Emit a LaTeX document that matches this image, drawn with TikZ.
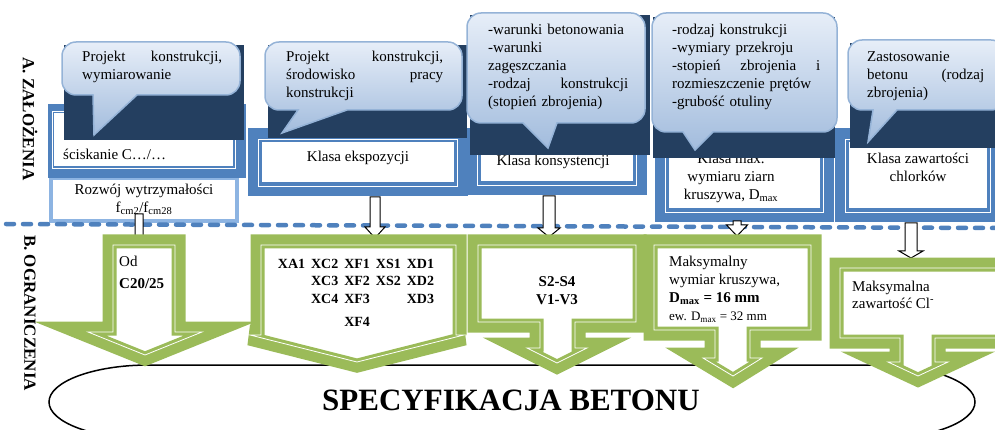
\documentclass[tikz,border=0pt]{standalone}
\usepackage{fontspec}
\setmainfont{Liberation Serif}
\usetikzlibrary{calc}
\definecolor{FrameBlue}{HTML}{4F81BD}
\definecolor{NavyBack}{HTML}{243F60}
\definecolor{SoftFrame}{HTML}{8DB4E2}
\definecolor{BubbleTop}{HTML}{E7EEF8}
\definecolor{BubbleBottom}{HTML}{A2BCDD}
\definecolor{BubbleEdge}{HTML}{95B3D7}
\definecolor{LimitGreen}{HTML}{9BBB59}
\newcommand{\hollowdown}[5]{%
  \draw[blockarrow] ($(#1)+(-#3,0)$) -- ($(#2)+(-#3,-#5)$) -- ($(#2)+(-#4,-#5)$) -- (#2)
    -- ($(#2)+(#4,-#5)$) -- ($(#2)+(#3,-#5)$) -- ($(#1)+(#3,0)$) -- cycle;}

\begin{document}
\begin{tikzpicture}[x=1pt,y=-1pt,inner sep=0pt,font=\fontsize{15}{18}\selectfont,
  blueframe/.style={fill=white,preaction={draw=FrameBlue,line width=21pt},
    postaction={draw=FrameBlue,line width=7pt},postaction={draw=white,line width=.8pt}},
  limitcall/.style={fill=white,preaction={draw=LimitGreen,line width=21pt,line join=miter,miter limit=6},
    postaction={draw=LimitGreen,line width=7pt,line join=miter,miter limit=6},
    postaction={draw=white,line width=.8pt,line join=miter}},
  navyback/.style={fill=NavyBack},
  bubble/.style={draw=BubbleEdge,line width=1.5pt,top color=BubbleTop,bottom color=BubbleBottom},
  bubbletext/.style={anchor=north west,align=left},
  sectionlabel/.style={rotate=-90,font=\fontsize{17}{20}\selectfont\bfseries},
  blockarrow/.style={draw=black,fill=white,line width=1pt,line join=miter}]
  \useasboundingbox (0,0) rectangle (995,430);
  \clip (0,0) rectangle (995,430);

  % A. zalozenia: klasy betonu
  \filldraw[fill=white,draw=SoftFrame,line width=4pt] (51,178) rectangle (237,221);
  \fill[FrameBlue] (48,104) rectangle (246,178);
  \fill[white] (54,113) rectangle (233,166);
  \draw[white,line width=.8pt] (52,111) rectangle (235,168);
  \node[anchor=west] (wytrz) at (63,154) {ściskanie C…/…};
  \node[align=center] (rozwoj) at (144,199) {Rozwój wytrzymałości\\f\textsubscript{cm2}/f\textsubscript{cm28}};

  \path[blueframe] (258,139) rectangle (457,186);
  \node (ekspo) at (358,158) {Klasa ekspozycji};
  \path[blueframe] (477,139) rectangle (636,185);
  \node (konsyst) at (553,162) {Klasa konsystencji};
  \path[blueframe] (665,139) rectangle (823,212);
  \node[align=center] (kruszywo) at (731,178) {Klasa max.\\wymiaru ziarn\\kruszywa, D\textsubscript{max}};
  \path[blueframe] (845,139) rectangle (990,212);
  \node[align=center] (chlorki) at (918,167) {Klasa zawartości\\chlorków};

  \fill[navyback] (64,45) rectangle (244,140);
  \fill[navyback] (268,45) rectangle (467,138);
  \fill[navyback] (470,15) rectangle (650,155);
  \fill[navyback] (653,17) rectangle (835,158);
  \fill[navyback] (850,43) rectangle (995,148);

  \draw[bubble] (94,135) -- (93,95) [rounded corners=14pt] -- (62,95) -- (62,42) -- (240,42) -- (240,95) [sharp corners] -- (137,95) -- cycle;
  \node[bubbletext,text width=140pt] (proj1) at (82,51) {Projekt\hfill konstrukcji,\\wymiarowanie};
  \draw[bubble] (282,133) -- (298,110) [rounded corners=14pt] -- (265,110) -- (265,42) -- (462,42) -- (462,110) [sharp corners] -- (347,110) -- cycle;
  \node[bubbletext,text width=157pt] (proj2) at (286,51) {Projekt\hfill konstrukcji,\\środowisko\hfill pracy\\konstrukcji};
  \draw[bubble] (548,148) -- (523,123) [rounded corners=14pt] -- (467,123) -- (467,13) -- (645,13) -- (645,123) [sharp corners] -- (557,123) -- cycle;
  \node[bubbletext,text width=140pt] (warunki) at (488,24) {-warunki betonowania\\-warunki\\zagęszczania\\-rodzaj\hfill konstrukcji\\(stopień zbrojenia)};
  \draw[bubble] (695,150) -- (683,132) [rounded corners=14pt] -- (652,132) -- (652,13) -- (837,13) -- (837,132) [sharp corners] -- (713,132) -- cycle;
  \node[bubbletext,text width=148pt] (przekroj) at (672,24) {-rodzaj konstrukcji\\-wymiary przekroju\\-stopień\hfill zbrojenia\hfill i\\rozmieszczenie prętów\\-grubość otuliny};
  \draw[bubble] (868,142) -- (873,110) [rounded corners=14pt] -- (848,110) -- (848,40) -- (1005,40) -- (1005,110) [sharp corners] -- (897,110) -- cycle;
  \node[bubbletext,text width=117pt] (zastos) at (867,51) {Zastosowanie\\betonu\hfill (rodzaj\\zbrojenia)};

  \draw[FrameBlue,line width=4.5pt,dash pattern=on 8pt off 9pt,line cap=round] (6,224) -- (995,228);

  \coordinate (rozwojOut) at (139,214);
  \coordinate (rozwojIn) at (139,247);
  \coordinate (ekspOut) at (375,197);
  \coordinate (ekspIn) at (375,238);
  \coordinate (konsOut) at (549,196);
  \coordinate (konsIn) at (549,237);
  \coordinate (kruszOut) at (737,221);
  \coordinate (kruszIn) at (737,236);
  \coordinate (chlorOut) at (911,223);
  \coordinate (chlorIn) at (911,258);
  \hollowdown{rozwojOut}{rozwojIn}{4}{8}{9}
  \hollowdown{ekspOut}{ekspIn}{5}{10}{11}
  \hollowdown{konsOut}{konsIn}{6}{11}{9}
  \hollowdown{kruszOut}{kruszIn}{4}{10.5}{11}
  \hollowdown{chlorOut}{chlorIn}{6}{12}{7}

  % B. ograniczenia: wymagania do specyfikacji
  \filldraw[fill=white,draw=black,line width=1.5pt] (149,365) -- (875,365) .. controls (930.2,365) and (975,381.6) .. (975,402)
    .. controls (975,422.4) and (930.2,439) .. (875,439) -- (149,439) .. controls (93.8,439) and (49,422.4) .. (49,402)
    .. controls (49,381.6) and (93.8,365) .. (149,365) -- cycle;
  \node[anchor=base,font=\fontsize{31}{36}\selectfont\bfseries] (spec) at (511,410) {SPECYFIKACJA BETONU};

  \path[limitcall] (113,245) -- (175,245) -- (175,332) -- (202,332) -- (145,355) -- (88,332) -- (113,332) -- cycle;
  \node[bubbletext] (od) at (119,256) {Od\\[4pt]\textbf{C20/25}};
  \path[limitcall] (261,245) -- (456,245) -- (456,335) -- (464,335) -- (357,362) -- (250,335) -- (261,335) -- cycle;
  \node[anchor=north,font=\fontsize{14}{17.5}\selectfont\bfseries] (ekspklasy) at (356,256)
    {\setlength{\tabcolsep}{3pt}\begin{tabular}{ccccc}XA1&XC2&XF1&XS1&XD1\\&XC3&XF2&XS2&XD2\\&XC4&XF3&&XD3\\[6pt]&&XF4&&\end{tabular}};
  \path[limitcall] (478,245) -- (636,245) -- (636,322) -- (575,322) -- (575,348) -- (587,348) -- (557,363) -- (527,348) -- (540,348) -- (540,322) -- (478,322) -- cycle;
  \node[align=center,font=\fontsize{15}{18}\selectfont\bfseries] (konsgrn) at (557,291) {S2-S4\\V1-V3};
  \path[limitcall] (654,245) -- (811,245) -- (811,330) -- (750,330) -- (750,358) -- (762,358) -- (733,376) -- (703,358) -- (715,358) -- (715,330) -- (654,330) -- cycle;
  \node[bubbletext] (dmax) at (669,256) {Maksymalny\\wymiar kruszywa,\\\textbf{D\textsubscript{max} = 16 mm}\\{\fontsize{13}{15}\selectfont ew. D\textsubscript{max} = 32 mm}};
  \path[limitcall] (840,268) -- (1005,268) -- (1005,338) -- (935,338) -- (935,362) -- (948,362) -- (918,376) -- (888,362) -- (900,362) -- (900,338) -- (840,338) -- cycle;
  \node[bubbletext] (clmax) at (852,281) {Maksymalna\\[-1.5pt]zawartość Cl\textsuperscript{-}};

  \node[sectionlabel] (zalozenia) at (30,119) {A. ZAŁOŻENIA};
  \node[sectionlabel] (ograniczenia) at (30,313) {B. OGRANICZENIA};
\end{tikzpicture}
\end{document}
